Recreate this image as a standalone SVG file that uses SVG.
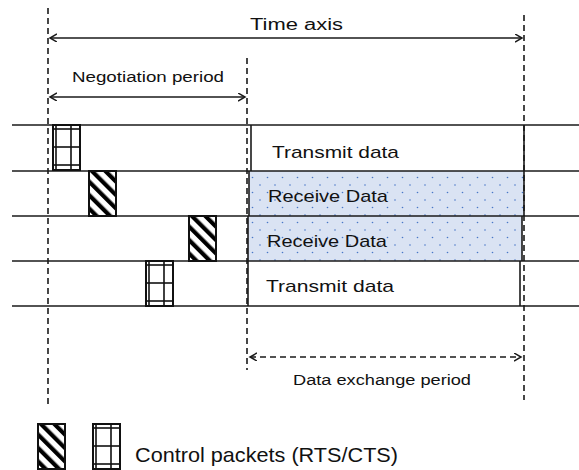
<svg xmlns="http://www.w3.org/2000/svg" xmlns:xlink="http://www.w3.org/1999/xlink" width="579" height="470" viewBox="0 0 579 470">
<style>
.ln{stroke:#1a1a1a;stroke-width:1.6;fill:none}
.dash{stroke:#1a1a1a;stroke-width:1.6;fill:none;stroke-dasharray:6,4}
.lbl{font-family:"Liberation Sans",Arial,sans-serif;fill:#111}
.box{stroke:#111;stroke-width:2}
.g{stroke:#111;stroke-width:1.6}
</style>
<defs>
<marker id="ah" markerWidth="9" markerHeight="10" refX="7" refY="4" orient="auto-start-reverse" markerUnits="userSpaceOnUse">
<path d="M0,0 L7,4 L0,8" fill="none" stroke="#1a1a1a" stroke-width="1.5"/>
</marker>
<pattern id="hatch" patternUnits="userSpaceOnUse" width="9.5" height="9.5" patternTransform="rotate(-45)">
<rect width="9.5" height="9.5" fill="#fff"/>
<rect width="4.2" height="9.5" fill="#000"/>
</pattern>
<pattern id="dots" patternUnits="userSpaceOnUse" width="15" height="15" x="3" y="3">
<rect width="15" height="15" fill="#dae3f3"/>
<circle cx="2" cy="2" r="0.8" fill="#4a78c8"/>
<circle cx="9.5" cy="9.5" r="0.8" fill="#4a78c8"/>
</pattern>
<g id="hbox">
<rect x="0" y="0" width="27" height="45" fill="url(#hatch)" class="box"/>
</g>
<g id="gbox">
<rect x="0" y="0" width="27" height="45" fill="#fff" class="box"/>
<line x1="3" y1="0" x2="3" y2="45" class="g"/>
<line x1="18" y1="0" x2="18" y2="45" class="g"/>
<line x1="0" y1="4" x2="27" y2="4" class="g"/>
<line x1="0" y1="22" x2="27" y2="22" class="g"/>
<line x1="0" y1="40" x2="27" y2="40" class="g"/>
</g>
</defs>
<rect width="579" height="470" fill="#fff"/>

<g id="rows">
<rect x="249" y="171" width="275" height="45" fill="url(#dots)"/>
<rect x="248" y="216" width="274" height="45" fill="url(#dots)"/>
<line x1="12" y1="125" x2="579" y2="125" class="ln"/>
<line x1="12" y1="171" x2="579" y2="171" class="ln"/>
<line x1="12" y1="216" x2="579" y2="216" class="ln"/>
<line x1="12" y1="261" x2="579" y2="261" class="ln"/>
<line x1="12" y1="306" x2="579" y2="306" class="ln"/>
<line x1="251" y1="125" x2="251" y2="171" class="ln"/>
<line x1="524" y1="125" x2="524" y2="171" class="ln"/>
<line x1="249" y1="171" x2="249" y2="216" class="ln"/>
<line x1="524" y1="171" x2="524" y2="216" class="ln"/>
<line x1="248" y1="216" x2="248" y2="261" class="ln"/>
<line x1="522" y1="216" x2="522" y2="261" class="ln"/>
<line x1="248" y1="261" x2="248" y2="306" class="ln"/>
<line x1="520" y1="261" x2="520" y2="306" class="ln"/>
</g>

<g id="row1-label"><text class="lbl" x="272" y="158" font-size="17" textLength="127" lengthAdjust="spacingAndGlyphs">Transmit data</text></g>
<g id="row2-label"><text class="lbl" x="268" y="202" font-size="17" textLength="120" lengthAdjust="spacingAndGlyphs">Receive Data</text></g>
<g id="row3-label"><text class="lbl" x="267" y="247" font-size="17" textLength="120" lengthAdjust="spacingAndGlyphs">Receive Data</text></g>
<g id="row4-label"><text class="lbl" x="266" y="292" font-size="17" textLength="128" lengthAdjust="spacingAndGlyphs">Transmit data</text></g>

<g id="pkt1"><use xlink:href="#gbox" x="53" y="125"/></g>
<g id="pkt2"><use xlink:href="#hbox" x="89" y="171"/></g>
<g id="pkt3"><use xlink:href="#hbox" x="189" y="216"/></g>
<g id="pkt4"><use xlink:href="#gbox" x="146" y="261"/></g>

<g id="guides">
<line x1="48" y1="8" x2="48" y2="408" class="dash"/>
<line x1="247" y1="58" x2="247" y2="370" class="dash"/>
<line x1="524" y1="15" x2="524" y2="400" class="dash"/>
</g>

<g id="connectors">
<line x1="50" y1="38" x2="522" y2="38" class="ln" marker-start="url(#ah)" marker-end="url(#ah)"/>
<line x1="50" y1="97" x2="245" y2="97" class="ln" marker-start="url(#ah)" marker-end="url(#ah)"/>
<line x1="250" y1="357" x2="521" y2="357" class="dash" marker-start="url(#ah)" marker-end="url(#ah)"/>
</g>

<g id="time-axis-label"><text class="lbl" x="250" y="30" font-size="16" textLength="93" lengthAdjust="spacingAndGlyphs">Time axis</text></g>
<g id="negotiation-label"><text class="lbl" x="72" y="82" font-size="14" textLength="152" lengthAdjust="spacingAndGlyphs">Negotiation period</text></g>
<g id="exchange-label"><text class="lbl" x="293" y="385" font-size="14" textLength="178" lengthAdjust="spacingAndGlyphs">Data exchange period</text></g>

<g id="legend">
<use xlink:href="#hbox" x="38" y="424"/>
<use xlink:href="#gbox" x="93" y="424"/>
<text class="lbl" x="135" y="462" font-size="21" textLength="263" lengthAdjust="spacingAndGlyphs">Control packets (RTS/CTS)</text>
</g>
</svg>
